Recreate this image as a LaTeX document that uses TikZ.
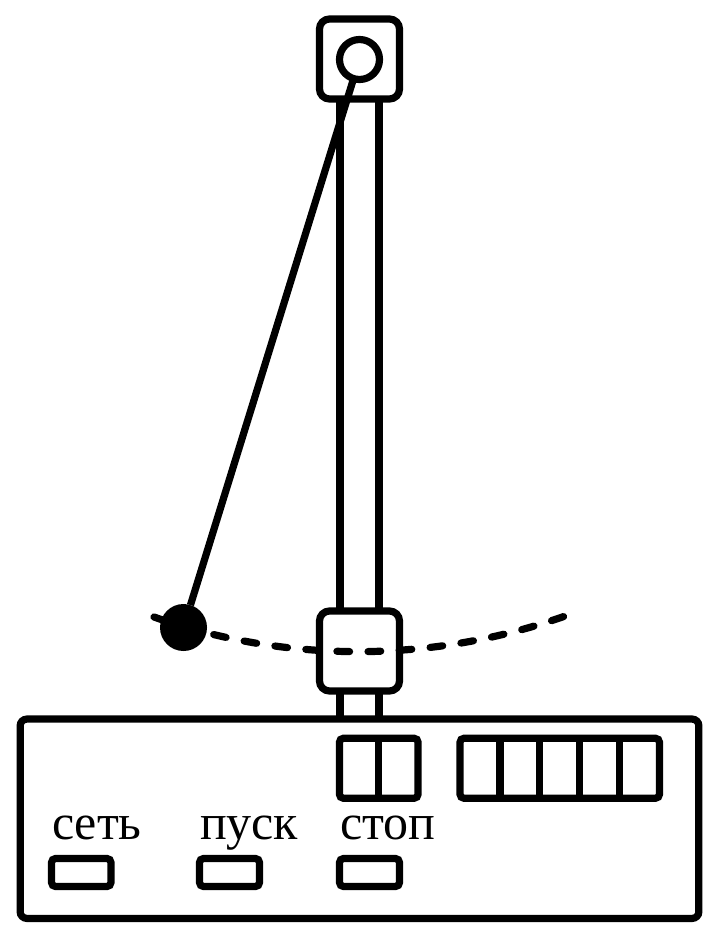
\documentclass[tikz,border=0pt]{standalone}
\usepackage{fontspec}
\setmainfont{Liberation Serif}
\usetikzlibrary{calc}
\tikzset{
  ink/.style={line width=5.4pt},
  boxnode/.style={ink,draw=black,rectangle,inner sep=0pt,outer sep=0pt,rounded corners=#1},
  boxnode/.default=7.5pt,
  label text/.style={font=\fontsize{37.5}{37.5}\selectfont,inner sep=0pt,outer sep=0pt,anchor=base west},
  swingdash/.style={ink,line cap=round,dash pattern=on 9.5pt off 13.85pt}
}
\begin{document}
\begin{tikzpicture}[x=0.75pt,y=-0.75pt]
\useasboundingbox (0,0) rectangle (719,938);
\fill[white] (0,0) rectangle (719,938);
% head and slider
\node[boxnode,minimum width=60pt,minimum height=60pt] (head) at (359.5,59) {};
\node[boxnode,minimum width=60pt,minimum height=60pt] (slider) at (359.5,651) {};
\node[boxnode=5pt,minimum width=509pt,minimum height=149.5pt] (panel) at (359.5,818.75) {};
% column
\coordinate (cl1) at (340,99);  \coordinate (cl2) at (340,611);
\coordinate (cr1) at (379,99);  \coordinate (cr2) at (379,611);
\coordinate (cl3) at (340,691); \coordinate (cl4) at (340,719);
\coordinate (cr3) at (379,691); \coordinate (cr4) at (379,719);
\draw[ink] (cl1) -- (cl2) (cr1) -- (cr2) (cl3) -- (cl4) (cr3) -- (cr4);
% swing
\coordinate (sw1) at (154,617);
\coordinate (sw2) at (568,615);
\draw[swingdash] (sw1) .. controls (287,663.5) and (433,663.5) .. (sw2);
% pendulum
\node[ink,draw=black,fill=white,circle,inner sep=0pt,outer sep=0pt,minimum size=30pt] (pivot) at (359.5,59.5) {};
\node[fill=black,circle,inner sep=0pt,outer sep=0pt,minimum size=35.25pt] (ball) at (183.5,627.5) {};
\draw[ink] (pivot) -- (ball);
% displays
\node[boxnode=3pt,minimum width=59pt,minimum height=45pt] (disp1) at (378.75,768.25) {};
\draw[ink] (disp1.north) -- (disp1.south);
\node[boxnode=3pt,minimum width=149.6pt,minimum height=45pt] (disp2) at (559.75,768.25) {};
\draw[ink] ($(disp2.north west)!.2!(disp2.north east)$) -- ($(disp2.south west)!.2!(disp2.south east)$);
\draw[ink] ($(disp2.north west)!.4!(disp2.north east)$) -- ($(disp2.south west)!.4!(disp2.south east)$);
\draw[ink] ($(disp2.north west)!.6!(disp2.north east)$) -- ($(disp2.south west)!.6!(disp2.south east)$);
\draw[ink] ($(disp2.north west)!.8!(disp2.north east)$) -- ($(disp2.south west)!.8!(disp2.south east)$);
% buttons
\node[boxnode=3pt,minimum width=44.6pt,minimum height=21pt] (btn1) at (81.25,872.5) {};
\node[boxnode=3pt,minimum width=45pt,minimum height=21pt] (btn2) at (229.5,872.5) {};
\node[boxnode=3pt,minimum width=45pt,minimum height=21pt] (btn3) at (369.5,872.5) {};
% labels
\node[label text] (lab1) at (52,839) {сеть};
\node[label text] (lab2) at (200,839) {пуск};
\node[label text] (lab3) at (340,839) {стоп};
\end{tikzpicture}
\end{document}
